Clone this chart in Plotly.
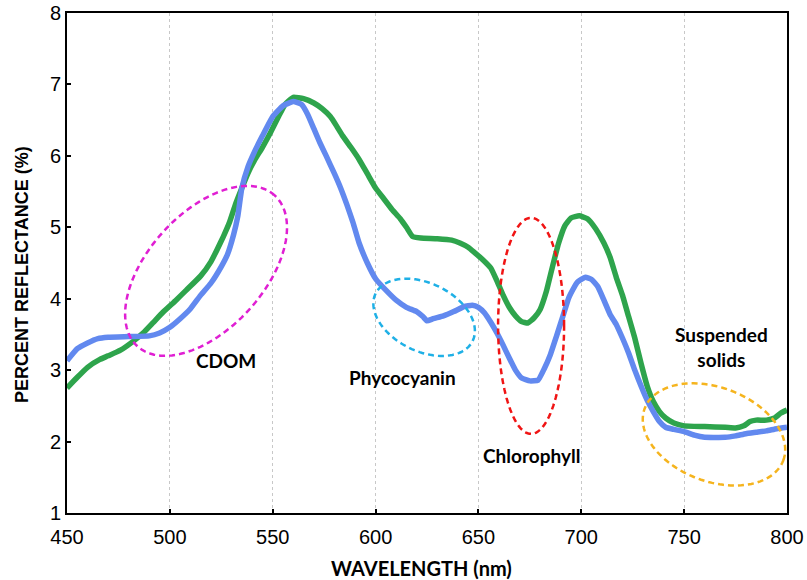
import numpy as np
import plotly.graph_objects as go

# ---- data ----
wl_blue = [450, 455, 460, 465, 470, 480, 490, 495, 500, 505, 510, 515, 520, 525, 528, 531, 533, 535,
           538, 541, 545, 550, 555, 560, 564, 567, 570, 573, 576, 580, 583, 586, 589, 592, 596, 600,
           605, 610, 615, 620, 623, 625, 628, 633, 638, 643, 647, 650, 653, 656, 659, 662, 665, 668,
           671, 675, 679, 682, 685, 688, 691, 694, 698, 702, 705, 708, 711, 714, 717, 720, 723, 726,
           729, 732, 735, 738, 741, 745, 750, 755, 760, 770, 775, 780, 785, 790, 795, 800]
refl_blue = [3.13, 3.30, 3.38, 3.44, 3.46, 3.47, 3.48, 3.52, 3.60, 3.72, 3.86, 4.05, 4.22, 4.45, 4.62,
             4.90, 5.15, 5.55, 5.85, 6.05, 6.28, 6.55, 6.70, 6.76, 6.72, 6.58, 6.38, 6.18, 6.00, 5.75,
             5.55, 5.32, 5.07, 4.78, 4.50, 4.28, 4.12, 3.98, 3.88, 3.82, 3.75, 3.69, 3.72, 3.76, 3.82,
             3.89, 3.91, 3.88, 3.80, 3.67, 3.52, 3.35, 3.17, 3.00, 2.89, 2.85, 2.86, 3.02, 3.22, 3.48,
             3.75, 4.02, 4.23, 4.30, 4.27, 4.17, 3.98, 3.78, 3.64, 3.45, 3.24, 3.00, 2.78, 2.58, 2.42,
             2.28, 2.20, 2.17, 2.14, 2.09, 2.06, 2.06, 2.08, 2.11, 2.13, 2.15, 2.18, 2.20]

wl_green = [450, 455, 460, 466, 470, 476, 482, 487, 492, 497, 503, 508, 515, 520, 523, 526, 529, 532,
            535, 538, 541, 545, 549, 553, 556, 560, 565, 570, 574, 578, 581, 584, 588, 592, 596, 600,
            604, 608, 612, 615, 618, 622, 630, 637, 641, 645, 648, 652, 656, 659, 662, 665, 668, 671,
            674, 677, 680, 683, 686, 689, 692, 695, 699, 703, 707, 711, 714, 717, 720, 723, 726, 729,
            732, 735, 738, 741, 745, 750, 760, 770, 775, 779, 782, 785, 790, 794, 797, 800]
refl_green = [2.75, 2.90, 3.04, 3.15, 3.20, 3.28, 3.40, 3.52, 3.67, 3.82, 3.98, 4.12, 4.32, 4.52, 4.69,
              4.87, 5.07, 5.33, 5.55, 5.76, 5.93, 6.12, 6.33, 6.56, 6.72, 6.82, 6.80, 6.74, 6.66, 6.55,
              6.42, 6.28, 6.12, 5.95, 5.75, 5.55, 5.40, 5.25, 5.12, 5.00, 4.87, 4.85, 4.84, 4.82, 4.78,
              4.72, 4.65, 4.55, 4.43, 4.25, 4.05, 3.88, 3.76, 3.68, 3.66, 3.73, 3.85, 4.10, 4.45, 4.78,
              5.02, 5.13, 5.16, 5.12, 4.98, 4.78, 4.58, 4.30, 4.05, 3.75, 3.45, 3.10, 2.78, 2.56, 2.42,
              2.33, 2.26, 2.22, 2.21, 2.20, 2.19, 2.22, 2.28, 2.30, 2.30, 2.33, 2.40, 2.44]

x_ticks = [450, 500, 550, 600, 650, 700, 750, 800]
y_ticks = [1, 2, 3, 4, 5, 6, 7, 8]

# annotation regions: label, centre (wavelength, reflectance), semi-axes (px), tilt (deg), colour
region_names = ["CDOM", "Phycocyanin", "Chlorophyll", "Suspended<br>solids"]
region_centers = [(517.6, 4.39), (623.6, 3.74), (675.6, 3.62), (764.5, 2.10)]
region_axes_px = [(102, 58), (54, 34), (33, 108), (74, 47)]
region_tilt = [47.7, -26, 0, -20.6]
region_colors = ["#e01fd3", "#1fb0e6", "#f01414", "#f5b41e"]
label_pos = [(527.3, 3.13), (613.3, 2.90), (675.6, 1.80), (768.4, 3.32)]

# ---- layout geometry ----
W, H = 807, 580
ML, MR, MT, MB = 67, 20, 13, 67
PW, PH = W - ML - MR, H - MT - MB
sx = PW / (x_ticks[-1] - x_ticks[0])
sy = PH / (y_ticks[-1] - y_ticks[0])


def ellipse_path(c, ab, tilt):
    cx, cy = c
    a, b = ab
    th = np.radians(tilt)
    t = np.linspace(0, 2 * np.pi, 121)
    dx = a * np.cos(t) * np.cos(th) - b * np.sin(t) * np.sin(th)
    dy = a * np.cos(t) * np.sin(th) + b * np.sin(t) * np.cos(th)
    xs = cx + dx / sx
    ys = cy + dy / sy
    pts = [f"{x:.3f},{y:.4f}" for x, y in zip(xs, ys)]
    return "M " + " L ".join(pts) + " Z"


fig = go.Figure()
fig.add_trace(go.Scatter(x=wl_green, y=refl_green, mode="lines",
                         line=dict(color="#2ea44c", width=5.5, shape="spline", smoothing=0.4),
                         hoverinfo="skip"))
fig.add_trace(go.Scatter(x=wl_blue, y=refl_blue, mode="lines",
                         line=dict(color="#6289ef", width=5.5, shape="spline", smoothing=0.4),
                         hoverinfo="skip"))

shapes = []
for c, ab, tl, col in zip(region_centers, region_axes_px, region_tilt, region_colors):
    shapes.append(dict(type="path", xref="x", yref="y", path=ellipse_path(c, ab, tl),
                       line=dict(color=col, width=2.5, dash="6px,4px"), layer="above"))

annotations = []
for name, (lx, ly) in zip(region_names, label_pos):
    annotations.append(dict(x=lx, y=ly, xref="x", yref="y", text=f"<b>{name}</b>", showarrow=False,
                            font=dict(family="Lato, Open Sans, sans-serif", size=19, color="black"),
                            xanchor="center", yanchor="middle"))

annotations.append(dict(x=(421 - ML) / PW, y=(MT + PH - 568) / PH, xref="paper", yref="paper",
                        text="<b>WAVELENGTH (nm)</b>", showarrow=False,
                        font=dict(family="Lato, Open Sans, sans-serif", size=20, color="black"),
                        xanchor="center", yanchor="middle"))
annotations.append(dict(x=(22 - ML) / PW, y=(MT + PH - 275) / PH, xref="paper", yref="paper",
                        text="<b>PERCENT REFLECTANCE (%)</b>", showarrow=False, textangle=-90,
                        font=dict(family="Liberation Sans, Arial, sans-serif", size=18, color="black"),
                        xanchor="center", yanchor="middle"))

fig.update_layout(
    width=W, height=H,
    margin=dict(l=ML, r=MR, t=MT, b=MB, autoexpand=False),
    paper_bgcolor="white", plot_bgcolor="white",
    showlegend=False,
    shapes=shapes, annotations=annotations,
    font=dict(family="Liberation Sans, Arial, sans-serif", size=20, color="black"),
)
fig.update_xaxes(range=[x_ticks[0], x_ticks[-1]], tickvals=x_ticks, ticktext=[str(v) for v in x_ticks],
                 showgrid=True, gridcolor="#c8c8c8", griddash="3px,3px", gridwidth=1,
                 showline=True, linecolor="black", linewidth=2, mirror=True,
                 ticks="inside", ticklen=4, tickwidth=2, tickcolor="black",
                 ticklabelstandoff=5,
                 zeroline=False, fixedrange=True, automargin=False)
fig.update_yaxes(range=[y_ticks[0], y_ticks[-1]], tickvals=y_ticks, ticktext=[str(v) for v in y_ticks],
                 showgrid=False,
                 showline=True, linecolor="black", linewidth=2, mirror=True,
                 ticks="inside", ticklen=4, tickwidth=2, tickcolor="black",
                 zeroline=False, fixedrange=True, automargin=False)

fig.write_html("out.html")
